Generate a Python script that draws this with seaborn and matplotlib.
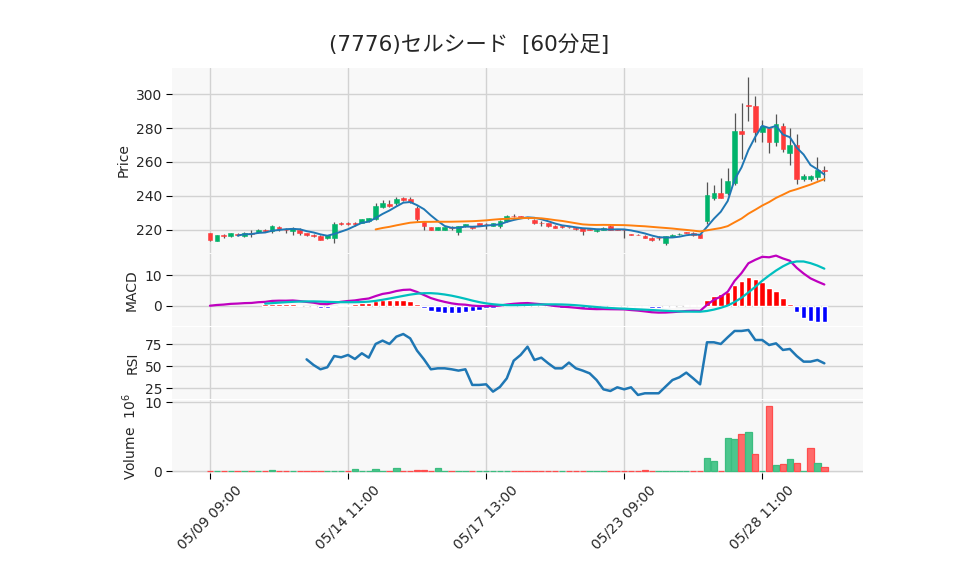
import numpy as np
import pandas as pd
import matplotlib
matplotlib.use("Agg")
import matplotlib.pyplot as plt
import seaborn as sns

# ---------------- data ----------------
tick_pos = [0, 20, 40, 60, 80]
tick_labels = ["05/09 09:00", "05/14 11:00", "05/17 13:00", "05/23 09:00", "05/28 11:00"]

opens = [218.0, 213.2, 216.6, 216.0, 217.4, 216.5, 217.8, 218.5, 220.0, 219.0,
         221.4, 219.8, 219.0, 219.6, 218.0, 216.6, 216.4, 214.8, 215.0, 223.8,
         223.8, 223.8, 224.0, 225.1, 226.3, 233.6, 235.2, 235.6, 238.8, 238.2,
         232.8, 224.7, 221.4, 219.8, 219.8, 221.2, 218.8, 222.0, 222.0, 223.7,
         223.5, 222.4, 222.0, 224.9, 228.3, 227.8, 227.4, 225.9, 224.1, 224.0,
         222.4, 221.9, 221.5, 220.7, 221.0, 220.1, 219.0, 219.8, 222.4, 220.1,
         219.9, 217.4, 217.0, 216.5, 215.3, 215.0, 212.3, 215.9, 217.4, 218.5,
         218.2, 217.3, 225.0, 238.9, 241.5, 241.9, 247.3, 278.3, 293.4, 293.1,
         277.9, 279.8, 271.9, 281.2, 265.0, 269.9, 249.9, 249.9, 251.1, 255.2]
highs = [218.3, 217.0, 217.5, 218.2, 218.0, 218.4, 219.5, 220.2, 220.3, 222.6,
         222.2, 221.0, 221.8, 220.8, 218.2, 217.3, 216.6, 217.0, 224.3, 224.4,
         224.3, 224.8, 226.5, 227.0, 236.0, 237.8, 237.8, 239.0, 239.5, 239.5,
         234.0, 225.0, 221.6, 221.6, 221.6, 222.3, 222.2, 223.6, 222.4, 224.0,
         224.0, 223.9, 225.5, 228.4, 229.0, 228.1, 227.6, 226.2, 225.3, 224.2,
         222.6, 222.8, 221.8, 221.4, 221.2, 220.4, 220.1, 221.3, 222.6, 220.4,
         220.2, 217.6, 217.2, 216.7, 215.5, 216.3, 216.5, 217.5, 217.9, 218.8,
         218.5, 217.6, 248.4, 246.4, 250.4, 256.3, 288.8, 294.8, 310.3, 299.2,
         285.0, 279.8, 288.3, 283.2, 279.8, 276.4, 253.0, 252.0, 263.0, 257.4]
lows = [213.5, 213.0, 215.2, 215.8, 216.5, 215.8, 215.5, 218.3, 218.8, 218.0,
        219.2, 218.0, 216.6, 216.8, 216.5, 215.8, 213.8, 214.6, 211.9, 223.0,
        223.0, 222.0, 223.8, 224.8, 225.5, 233.0, 233.4, 234.8, 237.2, 235.5,
        225.3, 219.7, 219.5, 219.5, 219.6, 219.6, 216.8, 221.8, 220.6, 222.0,
        220.4, 222.2, 221.0, 224.6, 227.6, 227.2, 226.0, 223.5, 222.0, 221.8,
        220.8, 221.0, 221.0, 219.8, 217.0, 219.6, 218.8, 219.6, 219.8, 219.8,
        215.1, 217.0, 216.6, 215.1, 213.5, 213.9, 211.2, 215.7, 217.0, 217.8,
        216.5, 214.9, 223.5, 237.6, 238.5, 240.5, 246.5, 262.0, 284.0, 271.6,
        272.0, 265.0, 269.3, 265.9, 258.0, 247.1, 248.7, 249.0, 249.1, 248.7]
closes = [214.0, 217.0, 216.4, 218.0, 217.0, 218.0, 217.4, 220.0, 219.2, 222.2,
          220.3, 219.6, 221.0, 218.0, 216.7, 216.4, 214.0, 216.9, 223.4, 223.5,
          223.5, 223.6, 226.3, 226.7, 234.2, 235.6, 233.8, 238.2, 237.8, 236.2,
          226.3, 222.0, 219.8, 221.3, 221.4, 221.0, 222.0, 223.4, 220.8, 222.4,
          223.3, 223.75, 225.3, 228.3, 227.9, 227.7, 227.2, 224.0, 223.9, 222.0,
          221.0, 221.8, 221.4, 220.6, 219.4, 219.9, 220.0, 221.0, 220.0, 220.0,
          219.7, 217.1, 216.8, 215.2, 213.9, 214.8, 216.0, 217.0, 217.5, 218.2,
          217.0, 215.2, 240.3, 241.5, 238.9, 248.7, 278.3, 276.4, 293.1, 277.9,
          281.0, 271.9, 282.4, 267.9, 269.9, 250.1, 251.5, 251.4, 255.1, 254.5]
volume = [80000, 100000, 0, 90000, 70000, 80000, 70000, 90000, 0, 240000,
          80000, 70000, 80000, 70000, 0, 60000, 80000, 70000, 90000, 80000,
          0, 380000, 90000, 80000, 380000, 90000, 0, 520000, 90000, 80000,
          240000, 240000, 0, 520000, 80000, 70000, 80000, 70000, 0, 60000,
          70000, 80000, 60000, 70000, 0, 60000, 70000, 60000, 70000, 60000,
          0, 70000, 60000, 70000, 80000, 60000, 0, 70000, 60000, 60000,
          70000, 60000, 0, 200000, 80000, 70000, 70000, 60000, 0, 70000,
          80000, 80000, 1900000, 1480000, 0, 4760000, 4620000, 5430000, 5620000, 2430000,
          0, 9430000, 900000, 1050000, 1760000, 1140000, 0, 3430000, 1140000, 620000]
rsi_values = [57.9, 51.5, 46.6, 48.9, 61.7, 60.2, 62.9, 58.3, 64.8, 59.8,
              75.4, 79.2, 75.4, 83.7, 86.7, 81.8, 67.8, 57.9, 46.6, 47.7,
              47.7, 46.6, 45.1, 46.6, 28.8, 28.8, 29.5, 21.2, 26.5, 36.3,
              56.4, 62.9, 72.3, 57.2, 59.8, 53.4, 47.7, 47.7, 54.2, 47.7,
              45.1, 42.0, 34.4, 23.8, 21.9, 26.1, 23.8, 26.1, 17.4, 19.3,
              19.3, 19.3, 26.9, 34.4, 37.5, 42.8, 36.3, 29.5, 77.3, 77.3,
              75.4, 83.0, 90.2, 90.2, 91.3, 79.9, 79.9, 74.2, 76.1, 68.6,
              69.7, 61.7, 55.3, 55.3, 57.2, 53.4]
rsi_start = 14

# ---------------- derived series ----------------
n = len(closes)
x = np.arange(n)
df = pd.DataFrame({"x": x, "open": opens, "high": highs, "low": lows,
                   "close": closes, "volume": volume})
df["ma5"] = df["close"].rolling(5).mean()
df["ma25"] = df["close"].rolling(25).mean()
ema12 = df["close"].ewm(span=12, adjust=False).mean()
ema26 = df["close"].ewm(span=26, adjust=False).mean()
df["macd"] = ema12 - ema26
df["signal"] = df["macd"].rolling(9).mean()
df["hist"] = df["macd"] - df["signal"]
df["rsi"] = np.nan
df.loc[rsi_start:rsi_start + len(rsi_values) - 1, "rsi"] = rsi_values

# ---------------- style ----------------
sns.set_theme(style="white")
plt.rcParams["font.family"] = ["DejaVu Sans", "Noto Sans CJK JP"]
plt.rcParams["axes.unicode_minus"] = False

UP, DOWN = "#00b36b", "#ff3b3b"
VUP, VDOWN = "#4cc68d", "#ff6b6b"
VUP_E, VDOWN_E = "#3bbd80", "#ff4d4d"
BG = "#f8f8f8"
GRID = "#d2d2d2"

W, H = 958, 575
fig = plt.figure(figsize=(W / 100, H / 100), dpi=100)


def ax_at(top, bottom):
    return fig.add_axes([172 / W, 1 - bottom / H, 691 / W, (bottom - top) / H])


ax1 = ax_at(68, 252.5)
ax2 = ax_at(253.5, 326)
ax3 = ax_at(327, 399)
ax4 = ax_at(400, 472.5)
axes = [ax1, ax2, ax3, ax4]

for ax in axes:
    ax.set_facecolor(BG)
    for s in ax.spines.values():
        s.set_visible(False)
    ax.set_xlim(-5.5, 94.6)
    ax.set_xticks(tick_pos)
    ax.grid(True, color=GRID, lw=1.0)
    ax.set_axisbelow(True)
    ax.tick_params(axis="y", left=True, length=4, width=0.8, color="black",
                   labelsize=10, pad=3)
    ax.tick_params(axis="x", bottom=False, labelbottom=False)

# ---- price panel ----
is_up = df["close"] > df["open"]
ccol = [UP if u else DOWN for u in is_up]
bottoms = np.minimum(df["open"], df["close"])
heights = np.maximum(np.abs(df["close"] - df["open"]), 0.3)
ax1.vlines(x, df["low"], df["high"], color="#555555", lw=0.9, zorder=2)
ax1.bar(x, heights, bottom=bottoms, width=0.68, color=ccol, edgecolor=ccol,
        lw=0.4, zorder=3)
sns.lineplot(data=df, x="x", y="ma5", ax=ax1, color="#1f77b4", lw=1.4, zorder=4)
sns.lineplot(data=df, x="x", y="ma25", ax=ax1, color="#ff7f0e", lw=1.4, zorder=4)
ax1.set_ylim(206.5, 315.5)
ax1.set_yticks([220, 240, 260, 280, 300])
ax1.set_ylabel("Price", fontsize=10)
ax1.set_xlabel("")

# ---- MACD panel ----
hcol = ["#ff0000" if v >= 0 else "#0000ff" for v in df["hist"].fillna(0)]
ax2.bar(x, df["hist"], width=0.8, color=hcol, zorder=2)
sns.lineplot(data=df, x="x", y="macd", ax=ax2, color="#bf00bf", lw=1.6, zorder=3)
sns.lineplot(data=df, x="x", y="signal", ax=ax2, color="#00bfbf", lw=1.6, zorder=3)
ax2.set_ylim(-6.6, 17.0)
ax2.set_yticks([0, 10])
ax2.set_ylabel("MACD", fontsize=10)
ax2.set_xlabel("")

# ---- RSI panel ----
sns.lineplot(data=df, x="x", y="rsi", ax=ax3, color="#1f77b4", lw=1.8, zorder=3)
ax3.set_ylim(12.8, 94.7)
ax3.set_yticks([25, 50, 75])
ax3.set_ylabel("RSI", fontsize=10)
ax3.set_xlabel("")

# ---- Volume panel ----
prev_close = df["close"].shift(1).fillna(df["open"])
vup = df["close"] > prev_close
vcol = [VUP if u else VDOWN for u in vup]
vedge = [VUP_E if u else VDOWN_E for u in vup]
ax4.bar(x, df["volume"] / 1e6, width=0.92, color=vcol, edgecolor=vedge, lw=0.9,
        zorder=2)
ax4.set_ylim(-0.17, 10.3)
ax4.set_yticks([0, 10])
ax4.set_ylabel("Volume  $10^{6}$", fontsize=10)
ax4.tick_params(axis="x", bottom=True, labelbottom=True, length=4, width=0.8,
                color="black", labelsize=10)
ax4.set_xticklabels(tick_labels, rotation=45, ha="center")
ax4.set_xlabel("")

fig.suptitle("(7776)セルシード  [60分足]", x=0.49, y=0.94, fontsize=15.5)

fig.savefig("out.png", dpi=100, facecolor="white")
